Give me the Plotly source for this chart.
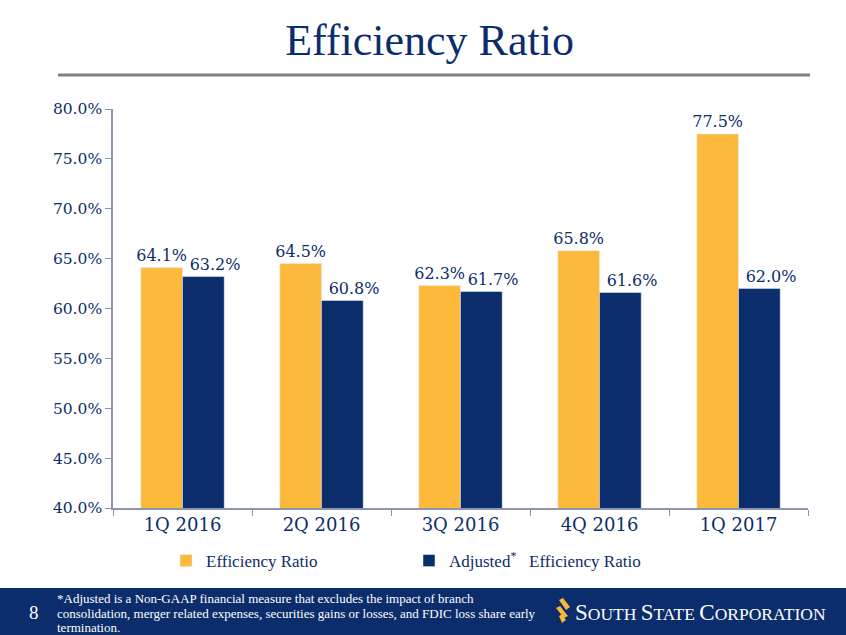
import plotly.graph_objects as go

categories = ["1Q 2016", "2Q 2016", "3Q 2016", "4Q 2016", "1Q 2017"]
efficiency = [64.1, 64.5, 62.3, 65.8, 77.5]
adjusted = [63.2, 60.8, 61.7, 61.6, 62.0]
ytick_vals = [40, 45, 50, 55, 60, 65, 70, 75, 80]
ytick_text = ["40.0%", "45.0%", "50.0%", "55.0%", "60.0%", "65.0%", "70.0%", "75.0%", "80.0%"]
footnote_lines = [
    "*Adjusted is a Non-GAAP financial measure that excludes the impact of branch",
    "consolidation, merger related expenses, securities gains or losses, and FDIC loss share early",
    "termination.",
]

W, H = 846, 635
L, R, T, B = 113, 38, 109, 127
PW, PH = W - L - R, H - T - B
NAVY = "#0B2D6B"
ORANGE = "#FDB93C"
GOLD = "#F6B93B"
SERIF = "Liberation Serif, serif"
WIDE = "DejaVu Serif, serif"
PAD = "\u2800\u2800"  # blank lead-in so the adjusted labels sit right of centre


def px(x):
    return (x - L) / PW


def py(y):
    return (H - B - y) / PH


fig = go.Figure()
fig.add_trace(go.Bar(
    x=categories, y=efficiency, name="Efficiency Ratio",
    marker_color=ORANGE,
    text=[f"{v:.1f}%" for v in efficiency], textposition="outside", constraintext="none",
    textfont=dict(family=WIDE, size=16, color=NAVY), cliponaxis=False,
))
fig.add_trace(go.Bar(
    x=categories, y=adjusted, name="Adjusted<sup>*</sup>   Efficiency Ratio",
    marker_color=NAVY,
    text=[f"{PAD}{v:.1f}%" for v in adjusted], textposition="outside",
    constraintext="none",
    textfont=dict(family=WIDE, size=16, color=NAVY), cliponaxis=False,
))

shapes = [
    dict(type="line", xref="paper", yref="paper",
         x0=px(58), x1=px(810), y0=py(75), y1=py(75),
         line=dict(color="#808080", width=3)),
    dict(type="rect", xref="paper", yref="paper",
         x0=px(-5), x1=px(W + 5), y0=py(588), y1=py(H + 5),
         fillcolor=NAVY, line=dict(width=0), layer="below"),
]


def path(points):
    return "M " + " L ".join(f"{px(a)},{py(b)}" for a, b in points) + " Z"


for pts in [
    [(559, 600), (563, 598), (570, 607), (566, 610)],
    [(556, 608), (560, 606), (568, 616), (564, 618)],
    [(559, 616), (562, 614), (566, 620), (562, 623)],
]:
    shapes.append(dict(type="path", xref="paper", yref="paper", path=path(pts),
                       fillcolor=GOLD, line=dict(width=0)))

annotations = []
for line, yc in zip(footnote_lines, [598, 613, 627]):
    annotations.append(dict(xref="paper", yref="paper", x=px(55), y=py(yc),
                            xanchor="left", yanchor="middle", align="left",
                            showarrow=False, text=line,
                            font=dict(family=SERIF, size=13, color="white")))
annotations += [
    dict(xref="paper", yref="paper", x=px(33.5), y=py(612), xanchor="center", yanchor="middle",
         showarrow=False, text="8", font=dict(family=SERIF, size=19, color="white")),
    dict(xref="paper", yref="paper", x=px(573), y=py(612), xanchor="left", yanchor="middle",
         showarrow=False,
         text="<span style='font-size:23px'>S</span>OUTH <span style='font-size:23px'>S</span>TATE "
              "<span style='font-size:23px'>C</span>ORPORATION",
         font=dict(family=SERIF, size=17.5, color="white")),
]

fig.update_layout(
    width=W, height=H,
    margin=dict(l=L, r=R, t=T, b=B, autoexpand=False),
    paper_bgcolor="white", plot_bgcolor="white",
    title=dict(text="Efficiency Ratio", x=(287 + 572) / 2 / W, xanchor="center",
               y=1 - 40 / H, yanchor="middle",
               font=dict(family=SERIF, size=44, color=NAVY)),
    barmode="group", bargap=0.4, bargroupgap=0.0,
    showlegend=True,
    legend=dict(orientation="h", xref="container", yref="container",
                x=166 / W, y=1 - 561 / H, xanchor="left", yanchor="middle",
                font=dict(family=SERIF, size=17, color=NAVY),
                entrywidth=198, entrywidthmode="pixels",
                itemwidth=30, bgcolor="rgba(0,0,0,0)"),
    xaxis=dict(showline=True, linecolor="#8C94B0", linewidth=1.5,
               ticks="outside", tickson="boundaries", ticklen=6, tickcolor="#8C94B0",
               tickfont=dict(family=WIDE, size=18, color=NAVY), showgrid=False),
    yaxis=dict(range=[40, 80], tickvals=ytick_vals, ticktext=ytick_text,
               showline=True, linecolor="#8C94B0", linewidth=1.5,
               ticks="outside", ticklen=6, tickcolor="#8C94B0",
               tickfont=dict(family=WIDE, size=15.5, color=NAVY), showgrid=False,
               zeroline=False),
    shapes=shapes, annotations=annotations,
)

fig.write_html("out.html", config={"displayModeBar": False},
               post_script="document.body.style.margin='0';document.body.style.overflow='hidden';")
